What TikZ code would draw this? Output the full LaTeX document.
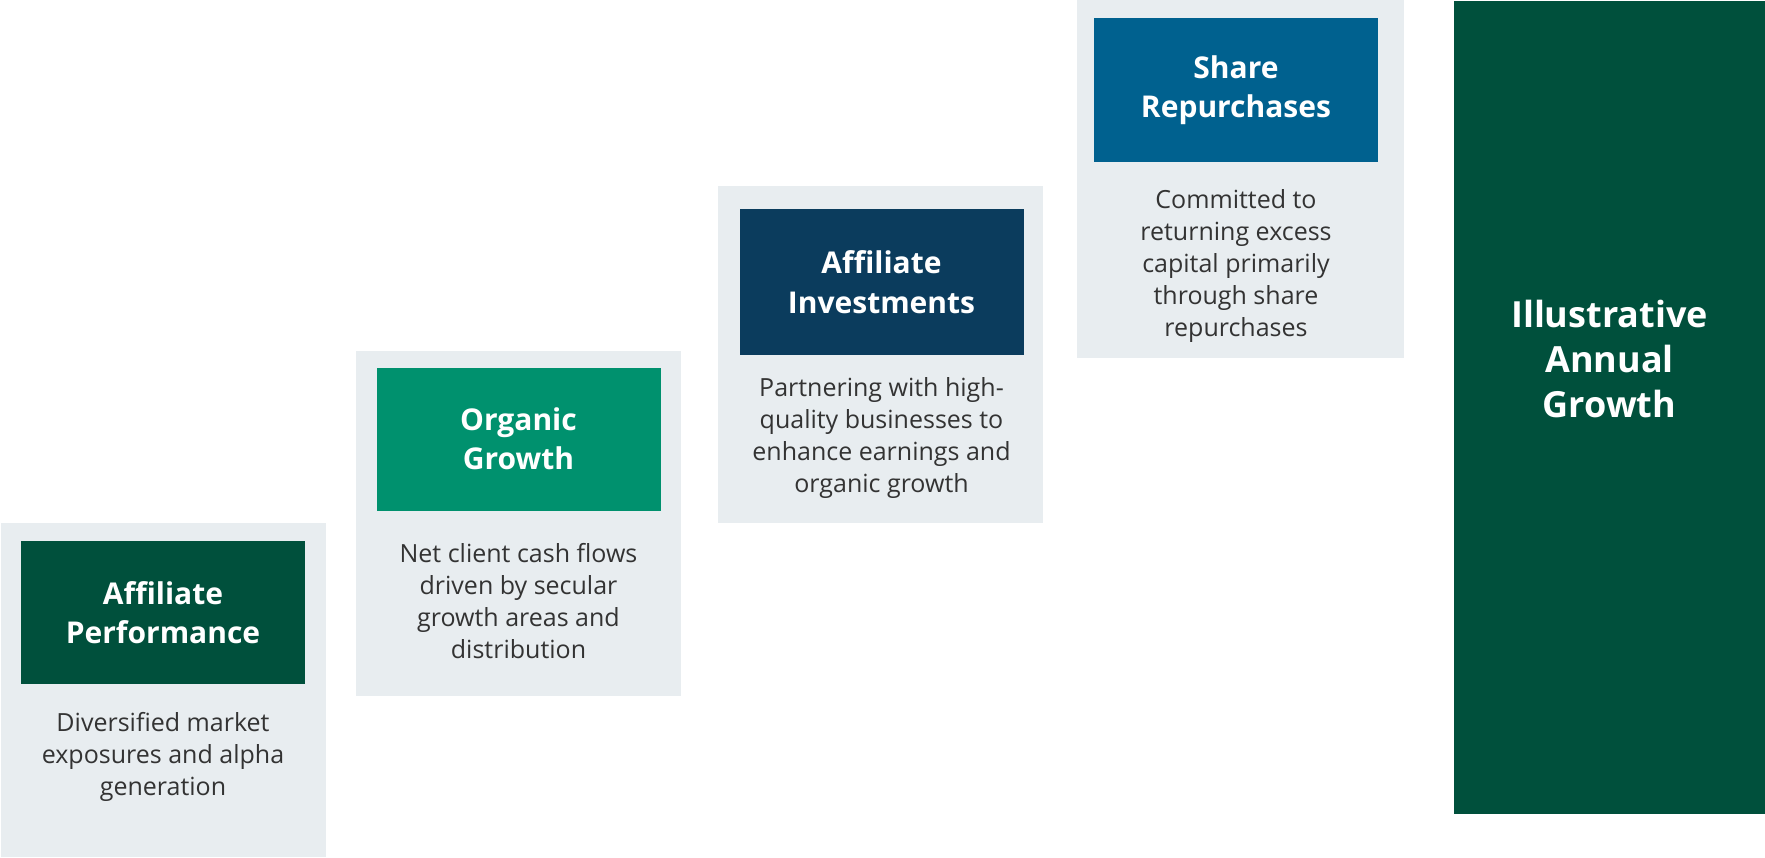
\documentclass[tikz,border=0pt]{standalone}
\usepackage{fontspec}
\setmainfont{Open Sans}
\usetikzlibrary{positioning}
\definecolor{panelgray}{HTML}{E8EDF0}
\definecolor{darkgreen}{HTML}{00503C}
\definecolor{tealgreen}{HTML}{00916E}
\definecolor{navyblue}{HTML}{0B3C5D}
\definecolor{seablue}{HTML}{00618F}
\definecolor{bodygray}{HTML}{333333}

\begin{document}
\begin{tikzpicture}[x=0.5pt,y=-0.5pt,
  panel/.style={fill=panelgray,inner sep=0pt,minimum width=162.5pt},
  header/.style={text=white,font=\fontsize{15}{19.7}\selectfont\bfseries,align=center,inner sep=0pt,minimum width=142pt,minimum height=71.5pt},
  desc/.style={text=bodygray,font=\fontsize{12.5}{16}\selectfont,align=center,inner sep=0pt}]
  \useasboundingbox (0,0) rectangle (1765,857);

  % step panels
  \node[panel,minimum height=167pt] (panel1) at (163.5,690) {};
  \node[panel,minimum height=172.5pt] (panel2) at (518.5,523.5) {};
  \node[panel,minimum height=168.5pt] (panel3) at (880,354.5) {};
  \node[panel,minimum height=179pt,minimum width=163.5pt] (panel4) at (1240.5,179) {};

  % headers
  \node[header,fill=darkgreen] (perf) at (163,612.5) {Affiliate\\Performance};
  \node[header,fill=tealgreen] (organic) at (518.5,439) {Organic\\Growth};
  \node[header,fill=navyblue,minimum height=73pt] (invest) at (881.5,282) {Affiliate\\Investments};
  \node[header,fill=seablue,minimum height=72pt] (repurch) at (1236,90) {Share\\Repurchases};

  % descriptions
  \node[desc] (perftext) at (163,757) {Diversified market\\exposures and alpha\\generation};
  \node[desc] (organictext) at (518.5,601) {Net client cash flows\\driven by secular\\growth areas and\\distribution};
  \node[desc] (investtext) at (881.5,438) {Partnering with high-\\quality businesses to\\enhance earnings and\\organic growth};
  \node[desc] (repurchtext) at (1236,266) {Committed to\\returning excess\\capital primarily\\through share\\repurchases};

  % total
  \node[fill=darkgreen,inner sep=0pt,minimum width=155.5pt,minimum height=406.5pt] (annual) at (1609.5,407.5) {};
  \node[text=white,font=\fontsize{18}{22.5}\selectfont\bfseries,align=center] (annualtext) at (1609.5,358.5) {Illustrative\\Annual\\Growth};
\end{tikzpicture}
\end{document}
